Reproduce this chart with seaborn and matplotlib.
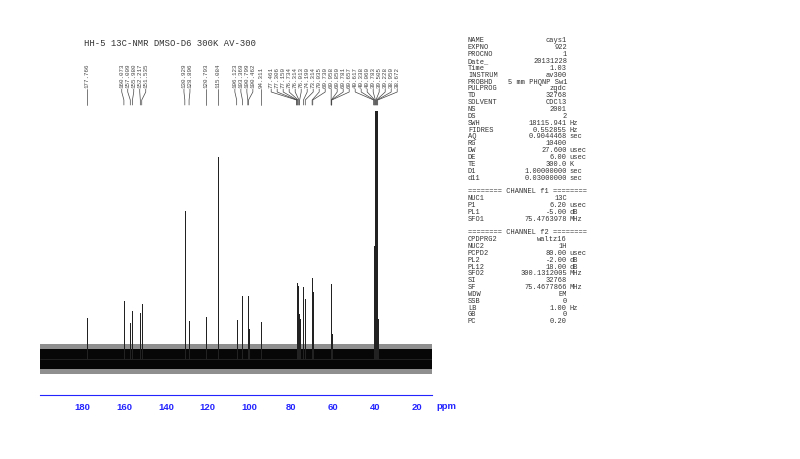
import matplotlib
matplotlib.use("Agg")
import matplotlib.pyplot as plt
import seaborn as sns
import numpy as np
import pandas as pd

# peak list (ppm, height above baseline)
peak_ppm = [177.766, 160.073, 157.009, 155.980, 152.217, 151.535,
            130.929, 128.896, 120.793, 115.084,
            106.123, 103.369, 100.799, 100.462, 94.311,
            77.461, 77.306, 77.150, 76.734, 76.314, 76.013,
            74.190, 73.314, 70.035, 69.730,
            60.958, 60.850, 60.781, 60.657,
            40.617, 40.338, 40.060, 39.783, 39.505, 39.228, 38.950, 38.672]
peak_height = [41, 58, 36, 48, 46, 55,
               148, 38, 42, 202,
               39, 63, 63, 30, 37,
               76, 55, 74, 73, 45, 40,
               72, 60, 81, 67,
               30, 75, 70, 25,
               45, 113, 248, 248, 248, 248, 90, 40]

ppm_left, ppm_right = 200.2, 12.7
noise_half = 10          # half width of the dense baseline noise band
noise_fringe = 15

title = "HH-5 13C-NMR DMSO-D6 300K AV-300"

acq_names = ["NAME", "EXPNO", "PROCNO", "Date_", "Time", "INSTRUM", "PROBHD",
             "PULPROG", "TD", "SOLVENT", "NS", "DS", "SWH", "FIDRES", "AQ",
             "RG", "DW", "DE", "TE", "D1", "d11"]
acq_values = ["cays1", "922", "1", "20131228", "1.03", "av300", "5 mm PHQNP Sw1",
              "zgdc", "32768", "CDCl3", "2001", "2", "18115.941", "0.552855",
              "0.9044468", "10400", "27.600", "6.00", "300.0", "1.00000000",
              "0.03000000"]
acq_units = ["", "", "", "", "", "", "", "", "", "", "", "", "Hz", "Hz", "sec",
             "", "usec", "usec", "K", "sec", "sec"]
f1_names = ["NUC1", "P1", "PL1", "SFO1"]
f1_values = ["13C", "6.20", "-5.00", "75.4763978"]
f1_units = ["", "usec", "dB", "MHz"]
f2_names = ["CPDPRG2", "NUC2", "PCPD2", "PL2", "PL12", "SFO2", "SI", "SF",
            "WDW", "SSB", "LB", "GB", "PC"]
f2_values = ["waltz16", "1H", "80.00", "-2.00", "18.00", "300.1312005",
             "32768", "75.4677866", "EM", "0", "1.00", "0", "0.20"]
f2_units = ["", "", "usec", "dB", "dB", "MHz", "", "MHz", "", "", "Hz", "", ""]

sns.set_style("white")
plt.rcParams['font.family'] = ['Liberation Mono', 'DejaVu Sans Mono']

W, H = 800, 460
fig = plt.figure(figsize=(8, 4.6), dpi=100)
ax = fig.add_axes([40 / W, 1 - 396 / H, 392 / W, 286 / H])

# stick spectrum built from the peak list
xs, ys = [ppm_left], [0]
for p, h in zip(peak_ppm, peak_height):
    xs += [p, p, p]
    ys += [0, h, 0]
xs.append(ppm_right)
ys.append(0)
spec = pd.DataFrame({"ppm": xs, "intensity": ys})

ax.fill_between([ppm_left, ppm_right], -noise_fringe, noise_fringe,
                color="#333333", alpha=0.55, lw=0, zorder=1)
ax.fill_between([ppm_left, ppm_right], -noise_half, noise_half,
                color="black", alpha=0.95, lw=0, zorder=1)
sns.lineplot(data=spec, x="ppm", y="intensity", sort=False, estimator=None,
             color="#222222", lw=0.7, ax=ax, zorder=2)

ax.set_xlim(ppm_left, ppm_right)
ax.set_ylim(-36, 250)
ax.set_xlabel("")
ax.set_ylabel("")
ax.set_yticks([])
for s in ["top", "left", "right"]:
    ax.spines[s].set_visible(False)
blue = "#2424ff"
ax.spines["bottom"].set_color(blue)
ax.spines["bottom"].set_linewidth(0.8)
ax.set_xticks(np.arange(180, 10, -20))
ax.set_xticks(np.arange(190, 10, -10), minor=True)
ax.tick_params(axis="x", which="both", direction="out", colors=blue,
               length=3, width=0.8, pad=2)
for lab in ax.get_xticklabels():
    lab.set_fontfamily("Liberation Sans")
    lab.set_fontweight("bold")
    lab.set_fontsize(6.8)
fig.text(436 / W, 1 - 407 / H, "ppm", color=blue, fontsize=6.8,
         fontweight="bold", family="Liberation Sans", va="center", ha="left")

# title
fig.text(84 / W, 1 - 43 / H, title, fontsize=6.4, color="#333333", va="center")

# peak labels, spread out so they do not overlap
fig.canvas.draw()
px = [ax.transData.transform((p, 0))[0] for p in peak_ppm]
gap = 6.0
groups = [[i] for i in range(len(px))]
changed = True
while changed:
    changed = False
    pos = []
    for g in groups:
        c = np.mean([px[i] for i in g])
        n = len(g)
        pos.append((c - gap * (n - 1) / 2, c + gap * (n - 1) / 2))
    merged = [groups[0]]
    last = pos[0]
    for g, p in zip(groups[1:], pos[1:]):
        if p[0] - last[1] < gap:
            merged[-1] = merged[-1] + g
            changed = True
            c = np.mean([px[i] for i in merged[-1]])
            n = len(merged[-1])
            last = (c - gap * (n - 1) / 2, c + gap * (n - 1) / 2)
        else:
            merged.append(g)
            last = p
    groups = merged
lab_x = [0] * len(px)
for g in groups:
    c = np.mean([px[i] for i in g])
    for k, i in enumerate(g):
        lab_x[i] = c + gap * (k - (len(g) - 1) / 2)

for p, xl, xp in zip(peak_ppm, lab_x, px):
    fig.text(xl / W, 1 - 88 / H, f"{p:.3f}", rotation=90, fontsize=4.2,
             color="#444444", ha="center", va="bottom")
    fig.add_artist(plt.Line2D([xl / W, xl / W, xp / W, xp / W],
                              [1 - 90 / H, 1 - 93 / H, 1 - 101 / H, 1 - 106 / H],
                              transform=fig.transFigure, color="#444444", lw=0.5))

# acquisition parameter panel
rows = list(zip(acq_names, acq_values, acq_units))
rows.append(None)
rows.append("======== CHANNEL f1 ========")
rows += list(zip(f1_names, f1_values, f1_units))
rows.append(None)
rows.append("======== CHANNEL f2 ========")
rows += list(zip(f2_names, f2_values, f2_units))
y0, dy = 41, 6.85
for k, r in enumerate(rows):
    y = 1 - (y0 + k * dy) / H
    if r is None:
        continue
    if isinstance(r, str):
        fig.text(468 / W, y, r, fontsize=5.0, color="#333333", va="center")
        continue
    name, val, unit = r
    fig.text(468 / W, y, name, fontsize=5.0, color="#333333", va="center")
    fig.text(567 / W, y, val, fontsize=5.0, color="#333333", va="center", ha="right")
    if unit:
        fig.text(569 / W, y, unit, fontsize=5.0, color="#333333", va="center")

fig.savefig("out.png", dpi=100)
